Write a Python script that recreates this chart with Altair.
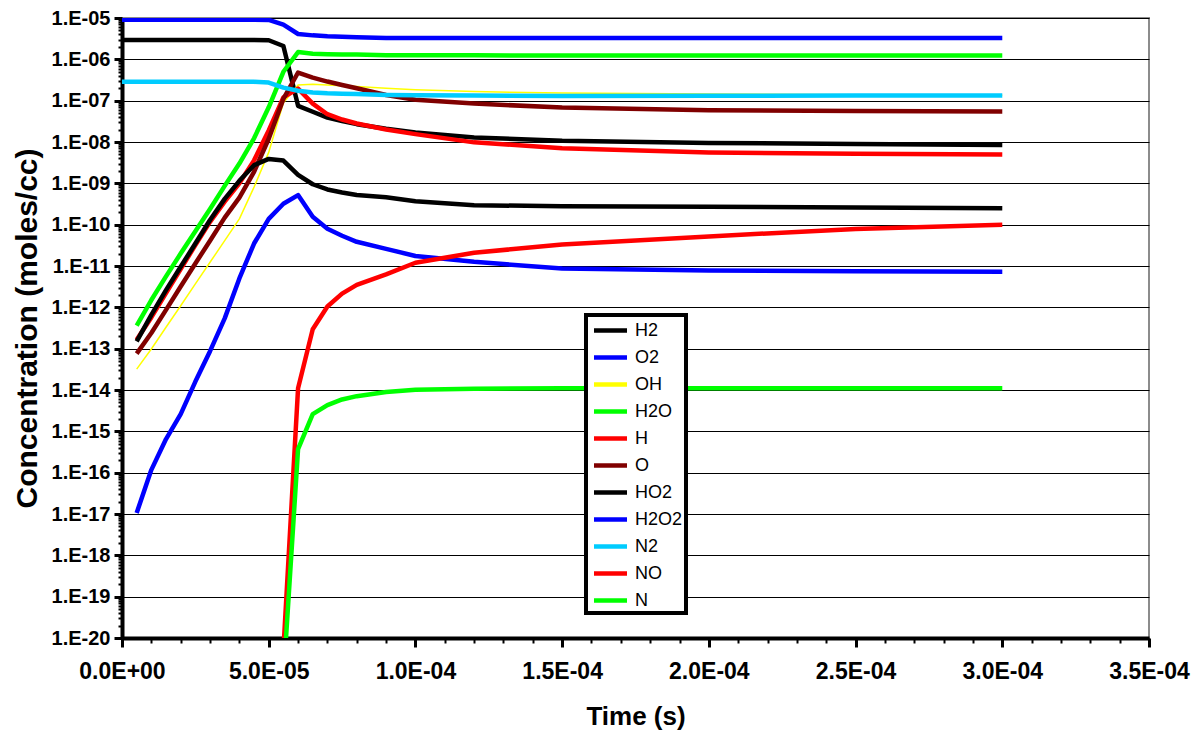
import json
import altair as alt
import pandas as pd

# time in microseconds
time_us = [0, 5, 10, 15, 20, 25, 30, 35, 40, 45, 50, 55, 60, 65, 70, 75, 80, 90, 100, 120, 150, 200, 250, 300]

species = ["H2", "O2", "OH", "H2O", "H", "O", "HO2", "H2O2", "N2", "NO", "N"]
colors = ["#000000", "#0000FF", "#FFFF00", "#00FF00", "#FF0000", "#800000",
          "#000000", "#0000FF", "#00CCFF", "#FF0000", "#00FF00"]
widths = [4.5, 4.5, 1.5, 4.5, 4.5, 4.5, 4.5, 4.5, 4.5, 4.5, 4.5]

H2 = [2.95e-6, 2.95e-6, 2.95e-6, 2.95e-6, 2.95e-6, 2.95e-6, 2.95e-6, 2.95e-6, 2.95e-6, 2.95e-6, 2.9e-6,
      2.1e-6, 7.5e-8, 5.4e-8, 3.9e-8, 3.2e-8, 2.7e-8, 2.1e-8, 1.7e-8, 1.29e-8, 1.07e-8, 9.5e-9, 9.0e-9, 8.5e-9]
O2 = [9.1e-6, 9.1e-6, 9.1e-6, 9.1e-6, 9.1e-6, 9.1e-6, 9.1e-6, 9.1e-6, 9.1e-6, 9.1e-6, 9.0e-6,
      6.9e-6, 4.1e-6, 3.8e-6, 3.6e-6, 3.5e-6, 3.4e-6, 3.3e-6, 3.3e-6, 3.3e-6, 3.3e-6, 3.3e-6, 3.3e-6, 3.3e-6]
OH = [None, 3.2e-14, 9.8e-14, 3.3e-13, 1.09e-12, 3.7e-12, 1.23e-11, 4.1e-11, 1.38e-10, 8.1e-10, 5.6e-9,
      8.9e-8, 2.4e-7, 2.5e-7, 2.4e-7, 2.3e-7, 2.2e-7, 2.0e-7, 1.84e-7, 1.66e-7, 1.53e-7, 1.45e-7, 1.4e-7, 1.36e-7]
H2O = [None, 3.6e-13, 1.5e-12, 5.6e-12, 2.0e-11, 6.9e-11, 2.4e-10, 8.7e-10, 3.0e-9, 1.23e-8, 6.9e-8,
       5.0e-7, 1.5e-6, 1.36e-6, 1.33e-6, 1.31e-6, 1.3e-6, 1.26e-6, 1.25e-6, 1.25e-6, 1.24e-6, 1.24e-6, 1.24e-6, 1.24e-6]
H = [None, 1.65e-13, 5.7e-13, 2.2e-12, 8.4e-12, 3.2e-11, 1.17e-10, 3.6e-10, 1.0e-9, 3.6e-9, 1.9e-8,
     1.2e-7, 1.95e-7, 8.5e-8, 4.7e-8, 3.5e-8, 2.8e-8, 2.0e-8, 1.55e-8, 9.8e-9, 7.1e-9, 5.6e-9, 5.2e-9, 5.0e-9]
O = [None, 7.6e-14, 2.4e-13, 8.7e-13, 3.2e-12, 1.15e-11, 4.1e-11, 1.48e-10, 4.5e-10, 1.9e-9, 1.2e-8,
     1.1e-7, 4.8e-7, 3.6e-7, 2.9e-7, 2.4e-7, 2.0e-7, 1.37e-7, 1.05e-7, 8.5e-8, 6.8e-8, 5.9e-8, 5.6e-8, 5.5e-8]
HO2 = [None, 1.5e-13, 6.6e-13, 2.6e-12, 9.6e-12, 3.5e-11, 1.3e-10, 4.2e-10, 1.15e-9, 2.75e-9, 3.9e-9,
       3.55e-9, 1.6e-9, 9.5e-10, 7.1e-10, 6.0e-10, 5.2e-10, 4.6e-10, 3.7e-10, 2.95e-10, 2.8e-10, 2.7e-10, 2.6e-10, 2.5e-10]
H2O2 = [None, 1.06e-17, 1.17e-16, 6.5e-16, 2.6e-15, 1.6e-14, 8.7e-14, 5.4e-13, 5.0e-12, 3.5e-11, 1.38e-10,
        3.2e-10, 5.2e-10, 1.55e-10, 8.0e-11, 5.4e-11, 3.85e-11, 2.6e-11, 1.75e-11, 1.26e-11, 8.7e-12, 7.8e-12, 7.5e-12, 7.3e-12]
N2 = [2.85e-7, 2.85e-7, 2.85e-7, 2.85e-7, 2.85e-7, 2.85e-7, 2.85e-7, 2.85e-7, 2.85e-7, 2.85e-7, 2.75e-7,
      2.07e-7, 1.74e-7, 1.57e-7, 1.51e-7, 1.48e-7, 1.45e-7, 1.38e-7, 1.36e-7, 1.33e-7, 1.3e-7, 1.32e-7, 1.33e-7, 1.33e-7]
NO = [None, None, None, None, None, None, None, None, None, None, None,
      5e-21, 1.1e-14, 2.95e-13, 1.05e-12, 2.15e-12, 3.5e-12, 6.3e-12, 1.2e-11, 2.1e-11, 3.3e-11, 5.2e-11, 7.9e-11, 9.9e-11]
N = [None, None, None, None, None, None, None, None, None, None, None,
     1e-21, 3.7e-16, 2.6e-15, 4.3e-15, 5.9e-15, 7.1e-15, 8.9e-15, 1.02e-14, 1.07e-14, 1.1e-14, 1.1e-14, 1.1e-14, 1.1e-14]

series = [H2, O2, OH, H2O, H, O, HO2, H2O2, N2, NO, N]

y_labels = ["1.E-05", "1.E-06", "1.E-07", "1.E-08", "1.E-09", "1.E-10", "1.E-11", "1.E-12",
            "1.E-13", "1.E-14", "1.E-15", "1.E-16", "1.E-17", "1.E-18", "1.E-19", "1.E-20"]
x_labels = ["0.0E+00", "5.0E-05", "1.0E-04", "1.5E-04", "2.0E-04", "2.5E-04", "3.0E-04", "3.5E-04"]

rows = []
for name, vals, w in zip(species, series, widths):
    for t, v in zip(time_us, vals):
        if v is not None:
            rows.append({"species": name, "time": t * 1e-6, "conc": v, "lw": w})
df = pd.DataFrame(rows)

y_ticks = []
for e in range(-20, -4):
    y_ticks.append(float(f"1e{e}"))
    if e < -5:
        for m in range(2, 10):
            y_ticks.append(float(f"{m}e{e}"))
x_ticks = [round(i * 1e-5, 10) for i in range(36)]

y_major_test = "abs(log(datum.value)/LN10 - round(log(datum.value)/LN10)) < 0.001"
x_major_test = "abs(datum.value/5e-5 - round(datum.value/5e-5)) < 0.001"

FONT = "Liberation Sans"

x_axis = alt.Axis(
    values=x_ticks,
    labelExpr=f"({x_major_test}) ? {json.dumps(x_labels)}[round(datum.value/5e-5)] : ''",
    title="Time (s)",
    grid=False,
    domainColor="black", domainWidth=4,
    tickColor="black",
    tickSize={"condition": {"test": x_major_test, "value": 9}, "value": 5},
    tickWidth={"condition": {"test": x_major_test, "value": 3}, "value": 2},
    labelFont=FONT, labelFontWeight="bold", labelFontSize=23, labelColor="black",
    labelPadding=13, labelOverlap=False, labelFlush=False, labelBound=False,
    titleFont=FONT, titleFontWeight="bold", titleFontSize=26, titleColor="black",
    titleY=78, titleBaseline="middle",
)

y_axis = alt.Axis(
    values=y_ticks,
    labelExpr=f"({y_major_test}) ? {json.dumps(y_labels)}[round(-log(datum.value)/LN10) - 5] : ''",
    title="Concentration (moles/cc)",
    grid=True, gridColor="black", gridWidth=1,
    gridOpacity={"condition": {"test": y_major_test, "value": 1}, "value": 0},
    domainColor="black", domainWidth=4,
    tickColor="black",
    tickSize={"condition": {"test": y_major_test, "value": 8}, "value": 4},
    tickWidth={"condition": {"test": y_major_test, "value": 3}, "value": 2},
    labelFont=FONT, labelFontWeight="bold", labelFontSize=20, labelColor="black",
    labelPadding=4, labelOverlap=False, labelFlush=False, labelBound=False,
    titleFont=FONT, titleFontWeight="bold", titleFontSize=30, titleColor="black",
    titleX=-95, titleY=310, titleBaseline="middle", titleAngle=270,
)

legend = alt.Legend(
    orient="none", legendX=464, legendY=297, title=None,
    symbolType="M-1.65,0H1.65", symbolSize=400, symbolStrokeWidth=4.5,
    labelFont=FONT, labelFontSize=18, labelColor="black",
    rowPadding=5, padding=3, symbolOffset=9, labelOffset=12,
    strokeColor="black", fillColor="white",
)

chart = alt.Chart(df).mark_line(clip=True, strokeJoin="round").encode(
    x=alt.X("time:Q", scale=alt.Scale(domain=[0, 3.5e-4], nice=False, zero=False), axis=x_axis),
    y=alt.Y("conc:Q", scale=alt.Scale(type="log", domain=[1e-20, 1e-5], nice=False), axis=y_axis),
    color=alt.Color("species:N", scale=alt.Scale(domain=species, range=colors), legend=legend),
    strokeWidth=alt.StrokeWidth("lw:Q", scale=None, legend=None),
    order=alt.Order("time:Q"),
).properties(
    width=1027, height=620,
    autosize=alt.AutoSizeParams(type="none"),
    padding={"left": 114, "top": 10, "right": 45, "bottom": 94},
).configure_view(
    stroke="#8c8c8c", strokeWidth=2
).configure_legend(
    strokeWidth=4
)

chart.save("out.html", embed_options={"renderer": "svg", "actions": False})
